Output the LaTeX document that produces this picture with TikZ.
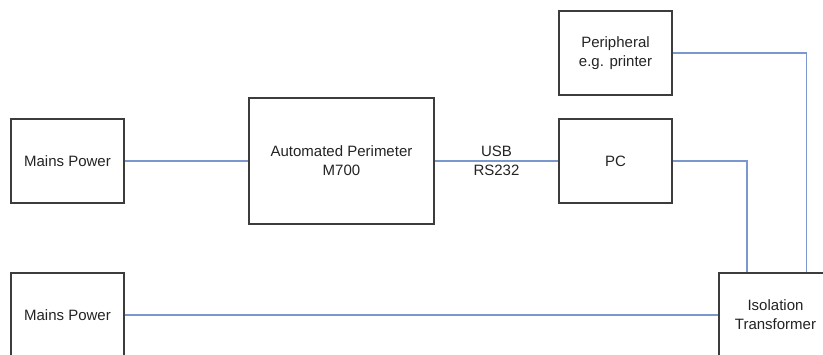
\documentclass[tikz,border=0pt]{standalone}
\usepackage{fontspec}
\setmainfont{Liberation Sans}
\usetikzlibrary{positioning}
\definecolor{linkblue}{RGB}{122,152,206}
\definecolor{boxline}{RGB}{60,60,60}
\definecolor{txt}{RGB}{35,35,35}
\begin{document}
\begin{tikzpicture}[x=1pt,y=-1pt,
  box/.style={draw=boxline,line width=1.3pt,minimum width=113pt,minimum height=84pt,
    inner sep=0pt,align=center,text=txt,
    font=\fontsize{15pt}{19pt}\selectfont},
  wire/.style={draw=linkblue,line width=1.5pt},
  lbl/.style={text=txt,align=center,font=\fontsize{15pt}{19pt}\selectfont}]
\useasboundingbox (0,0) rectangle (823,354);
\clip (0,0) rectangle (823,354);
\node[box] (mainsA) at (67.5,161) {Mains Power};
\node[box] (mainsB) at (67.5,315) {Mains Power};
\node[box,minimum width=185pt,minimum height=126pt] (ap) at (341.5,161) {Automated Perimeter\\M700};
\node[box] (pc) at (615.5,161) {PC};
\node[box] (per) at (615.5,53) {Peripheral\\e.g. printer};
\node[box] (iso) at (775.5,315) {Isolation\\Transformer};
\coordinate (isoA) at ([xshift=28.5pt]iso.north west);
\coordinate (isoB) at ([xshift=88pt]iso.north west);
\draw[wire] (mainsA.east) -- (ap.west);
\draw[wire] (ap.east) -- node[lbl] (usb) {USB\\RS232} (pc.west);
\draw[wire] (pc.east) -| (isoA);
\draw[wire] (per.east) -| (isoB);
\draw[wire] (mainsB.east) -- (iso.west);
\end{tikzpicture}
\end{document}
